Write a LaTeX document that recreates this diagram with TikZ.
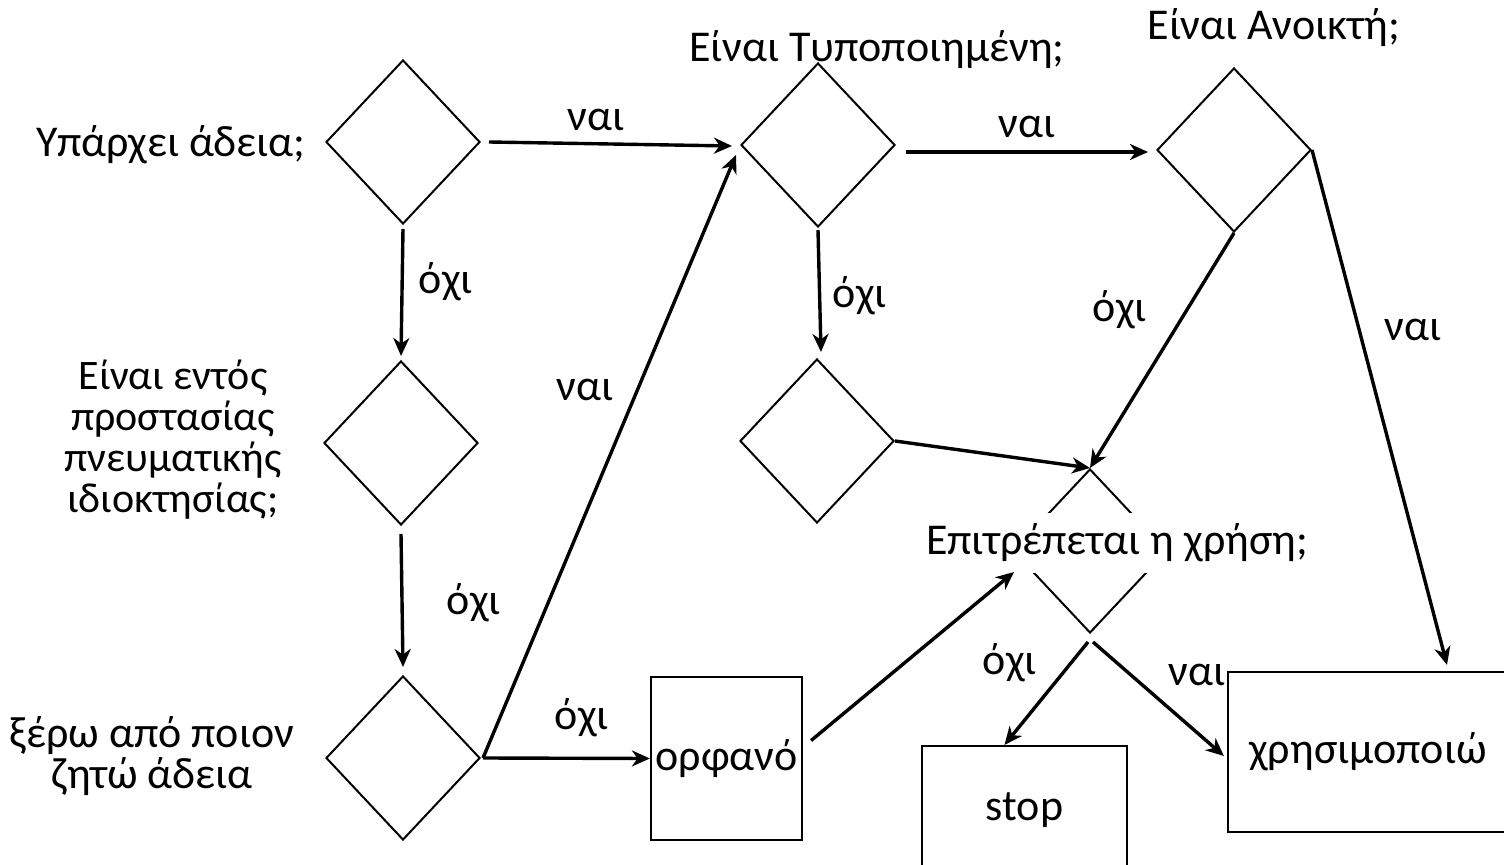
\documentclass[tikz,border=0pt]{standalone}
\usepackage{fontspec}
\setmainfont{Carlito}
\usetikzlibrary{shapes.geometric,arrows.meta}
\begin{document}
\begin{tikzpicture}[x=0.5pt,y=-0.5pt,
  dia/.style={draw,diamond,line width=1pt,minimum width=77pt,minimum height=82pt,inner sep=0pt},
  box/.style={draw,rectangle,line width=1.1pt,inner sep=0pt},
  lab/.style={font=\fontsize{22}{24}\selectfont,inner sep=1pt},
  arr/.style={-{Stealth[length=9pt,width=8pt,inset=2.8pt]},line width=1.7pt},
]
\useasboundingbox (0,0) rectangle (1504,865);
% diamonds
\node[dia] (d1) at (403,142) {};
\node[dia] (d2) at (401,443) {};
\node[dia] (d3) at (403,758) {};
\node[dia] (d4) at (818,145) {};
\node[dia] (d5) at (817,441) {};
\node[dia] (d6) at (1234,150) {};
\node[dia] (d7) at (1090,551) {};
\node[lab,fill=white,minimum height=30pt,inner xsep=3pt] (t7) at (1117,543) {Επιτρέπεται η χρήση;};
% boxes
\node[box,minimum width=75.5pt,minimum height=81.5pt,lab] (orph) at (726.5,758.5) {ορφανό};
\node[box,minimum width=102.5pt,minimum height=64pt,lab] (stop) at (1024.5,810) {stop};
\node[box,minimum width=140pt,minimum height=80pt,lab] (use) at (1368,752) {χρησιμοποιώ};
% question texts
\node[lab] (q1) at (171,145) {Υπάρχει άδεια;};
\node[lab,align=center,font=\fontsize{21}{20.5}\selectfont] (q2) at (173,440) {Είναι εντός\\προστασίας\\πνευματικής\\ιδιοκτησίας;};
\node[lab,align=center,font=\fontsize{22}{20.5}\selectfont] (q3) at (152,756) {ξέρω από ποιον\\ζητώ άδεια};
\node[lab] (q4) at (877,50) {Είναι Τυποποιημένη;};
\node[lab] (q6) at (1274,28) {Είναι Ανοικτή;};
% connectors
\draw[arr] ([xshift=4pt]d1.east) -- ([shift={(-4pt,-0.5pt)}]d4.west);
\draw[arr] ([yshift=-2pt]d1.south) -- ([yshift=2pt]d2.north);
\draw[arr] ([yshift=-4pt]d2.south) -- ([yshift=4pt]d3.north);
\draw[arr] ([xshift=1pt]d3.east) -- ([shift={(-2pt,-5pt)}]d4.west);
\draw[arr] ([xshift=1pt]d3.east) -- (orph.west);
\draw[arr] ([shift={(5pt,-3.5pt)}]d4.east) -- ([shift={(-4pt,-1pt)}]d6.west);
\draw[arr] ([yshift=-1pt]d4.south) -- ([shift={(2pt,3pt)}]d5.north);
\draw[arr] (d5.east) -- (d7.north);
\draw[arr] (d6.south) -- (d7.north);
\draw[arr] (d6.east) -- ([shift={(39.5pt,3pt)}]use.north);
\draw[arr] ([shift={(4pt,9pt)}]orph.east) -- ([shift={(1pt,-10.5pt)}]d7.west);
\draw[arr] ([shift={(-1pt,-4pt)}]d7.south) -- ([xshift=-10pt]stop.north);
\draw[arr] ([shift={(1.5pt,-4pt)}]d7.south) -- ([shift={(-1.5pt,-2pt)}]use.west);
% edge labels
\node[lab] (l1) at (596,120) {ναι};
\node[lab] (l2) at (446,282) {όχι};
\node[lab] (l3) at (474,603) {όχι};
\node[lab] (l4) at (585,390) {ναι};
\node[lab] (l5) at (582,718) {όχι};
\node[lab] (l6) at (1027,127) {ναι};
\node[lab] (l7) at (860,296) {όχι};
\node[lab] (l8) at (1120,310) {όχι};
\node[lab] (l9) at (1413,330) {ναι};
\node[lab] (l10) at (1010,663) {όχι};
\node[lab] (l11) at (1197,675) {ναι};
\end{tikzpicture}
\end{document}
